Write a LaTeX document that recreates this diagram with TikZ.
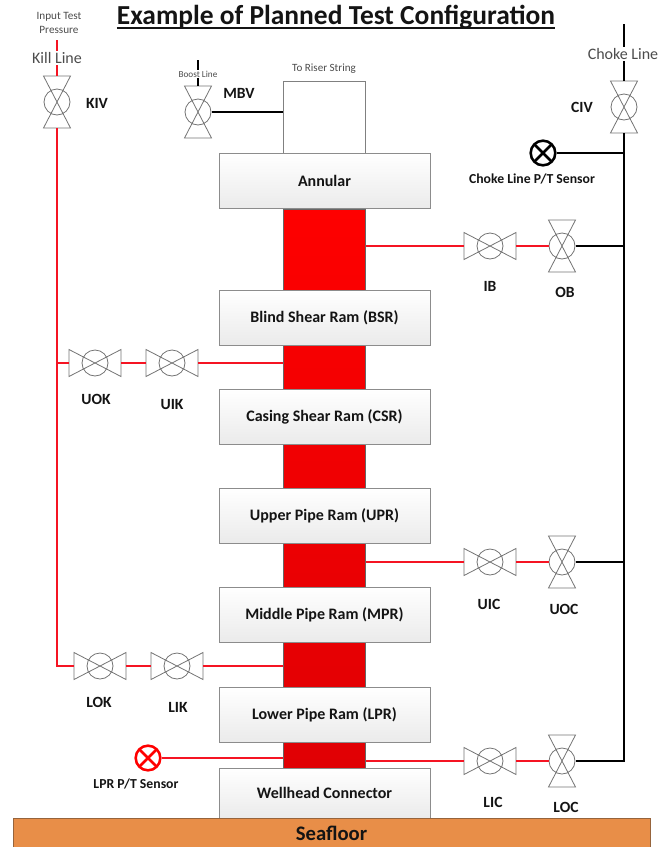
\documentclass[tikz,border=0pt]{standalone}
\usepackage{fontspec}
\setmainfont{Carlito}
\definecolor{boretop}{RGB}{254,0,0}
\definecolor{borelow}{RGB}{224,0,4}
\definecolor{linered}{RGB}{245,20,35}
\definecolor{seafill}{RGB}{232,142,72}
\definecolor{seaedge}{RGB}{150,100,60}
\definecolor{inktext}{RGB}{20,20,20}
\newcommand{\titleline}[1]{\setbox0\hbox{#1}\rlap{\rule[-3.4pt]{\wd0}{1.4pt}}\box0}
\tikzset{every picture/.style={line width=0.75pt}}
\tikzset{
  rambox/.style={draw=black!45,line width=0.75pt,top color=white,bottom color=black!8,minimum width=158.25pt,inner sep=0pt,text=inktext,font=\fontsize{12}{14}\selectfont\bfseries},
  valvebox/.style={inner sep=0pt,minimum width=38.25pt,minimum height=19.5pt},
  valvebox v/.style={inner sep=0pt,minimum width=19.5pt,minimum height=38.25pt},
  valveline/.style={draw=black!55,line width=0.6pt},
  sensor/.style={circle,draw,line width=1.9pt,fill=white,inner sep=0pt,minimum size=18.5pt,path picture={
    \draw[line width=1.9pt] (path picture bounding box.north west) -- (path picture bounding box.south east) (path picture bounding box.north east) -- (path picture bounding box.south west);}},
  redline/.style={draw=linered,line width=2pt},
  blackline/.style={draw=black,line width=2pt},
  lbl/.style={inner sep=0.75pt,text=inktext,font=\fontsize{11.7}{14}\selectfont\bfseries},
  smalllbl/.style={inner sep=0.75pt,text=inktext,font=\fontsize{10.3}{12}\selectfont\bfseries},
  linelbl/.style={fill=white,inner sep=1pt,text=black!70,font=\fontsize{12}{13}\selectfont},
}
\newcommand{\valveh}[2]{\node[valvebox] (#1) at (#2) {};
\draw[valveline] (#1.north west) -- (#1.south east) -- (#1.north east) -- (#1.south west) -- cycle (#1.center) circle (13);}
\newcommand{\valvev}[2]{\node[valvebox v] (#1) at (#2) {};
\draw[valveline] (#1.north west) -- (#1.north east) -- (#1.south west) -- (#1.south east) -- cycle (#1.center) circle (13);}

\begin{document}
\begin{tikzpicture}[x=0.75pt,y=0.75pt,yscale=-1,xscale=1]
\useasboundingbox (0,0) rectangle (670,847);

%Stack
\node[draw=black!50,fill=white,inner sep=0pt,minimum width=61.5pt,minimum height=54pt] (riser) at (324,117) {};
\node[draw=black!60,top color=boretop,bottom color=borelow,inner sep=0pt,minimum width=61.5pt,minimum height=419.25pt] (bore) at (324,488.5) {};
\node[rambox,minimum height=41.25pt] (annular) at (324.5,181) {Annular};
\node[rambox,minimum height=41.25pt] (bsr) at (324.5,317.5) {Blind Shear Ram (BSR)};
\node[rambox,minimum height=41.25pt] (csr) at (324.5,417) {Casing Shear Ram (CSR)};
\node[rambox,minimum height=41.25pt] (upr) at (324.5,515.5) {Upper Pipe Ram (UPR)};
\node[rambox,minimum height=41.25pt] (mpr) at (324.5,614.5) {Middle Pipe Ram (MPR)};
\node[rambox,minimum height=41.25pt] (lpr) at (324.5,715) {Lower Pipe Ram (LPR)};
\node[rambox,minimum height=37.5pt] (wellhead) at (324.5,793) {Wellhead Connector};
\node[draw=seaedge,fill=seafill,inner sep=0pt,minimum width=477.75pt,minimum height=21.75pt,text=inktext,font=\fontsize{15.5}{16}\selectfont\bfseries] (seafloor) at (331.5,833) {Seafloor};

%Valves
\valvev{KIV}{57,102}
\valvev{MBV}{198,112}
\valvev{CIV}{624,107}
\valveh{IB}{490,246}
\valvev{OB}{562,246}
\valveh{UOK}{95,363}
\valveh{UIK}{172,363}
\valveh{UIC}{490,562}
\valvev{UOC}{562,562}
\valveh{LOK}{100,666}
\valveh{LIK}{177,666}
\valveh{LIC}{490,761}
\valvev{LOC}{562,761}

%Sensors
\node[sensor] (CLS) at (543,153) {};
\node[sensor,draw=red] (LPS) at (148,758) {};

%Line ends
\coordinate (killtop) at (57,40);
\coordinate (boosttop) at (198,60);
\coordinate (choketop) at (624,24);

%Red lines
\draw[redline] (killtop) -- (KIV.north);
\draw[redline] (KIV.south) |- (LOK.west);
\draw[redline] (LOK.east) -- (LIK.west);
\draw[redline] (LIK.east) -- (LIK.east -| bore.west);
\draw[redline] (UOK.west) -- (UOK.west -| KIV.south);
\draw[redline] (UOK.east) -- (UIK.west);
\draw[redline] (UIK.east) -- (UIK.east -| bore.west);
\draw[redline] (IB.west -| bore.east) -- (IB.west);
\draw[redline] (IB.east) -- (OB.west);
\draw[redline] (UIC.west -| bore.east) -- (UIC.west);
\draw[redline] (UIC.east) -- (UOC.west);
\draw[redline] (LIC.west -| bore.east) -- (LIC.west);
\draw[redline] (LIC.east) -- (LOC.west);
\draw[redline] (LPS.east) -- (LPS.east -| bore.west);

%Black lines
\draw[blackline] (choketop) -- (CIV.north);
\draw[blackline] (CIV.south) |- (LOC.east);
\draw[blackline] (OB.east) -- (OB.east -| CIV.south);
\draw[blackline] (UOC.east) -- (UOC.east -| CIV.south);
\draw[blackline] (CLS.east) -- (CLS.east -| CIV.south);
\draw[blackline] (boosttop) -- (MBV.north);
\draw[blackline] (MBV.east) -- (MBV.east -| riser.west);

% Text Node
\draw (336,17) node [inner sep=0.75pt,text=inktext,font=\fontsize{20.6}{23}\selectfont\bfseries] (title) {\titleline{Example of Planned Test Configuration}};
% Text Node
\draw (59,23) node [inner sep=0.75pt,align=center,text=black!70,font=\fontsize{8.4}{10}\selectfont] (input) {Input Test\\Pressure};
% Text Node
\draw (57,58) node [linelbl] (killlbl) {Kill Line};
% Text Node
\draw (623,54) node [linelbl] (chokelbl) {Choke Line};
% Text Node
\draw (198,74) node [fill=white,inner sep=0.75pt,text=black!70,font=\fontsize{6.9}{7}\selectfont] (boostlbl) {Boost Line};
% Text Node
\draw (324,69) node [inner sep=0.75pt,text=black!70,font=\fontsize{8.3}{9}\selectfont] (riserlbl) {To Riser String};
% Text Node
\draw (97,103) node [lbl] (lblKIV) {KIV};
% Text Node
\draw (239,93) node [lbl] (lblMBV) {MBV};
% Text Node
\draw (582,107) node [lbl] (lblCIV) {CIV};
% Text Node
\draw (532,179) node [smalllbl] (lblCLS) {Choke Line P/T Sensor};
% Text Node
\draw (490,286) node [lbl] (lblIB) {IB};
% Text Node
\draw (565,292) node [lbl] (lblOB) {OB};
% Text Node
\draw (96,399) node [lbl] (lblUOK) {UOK};
% Text Node
\draw (172,404) node [lbl] (lblUIK) {UIK};
% Text Node
\draw (489,604) node [lbl] (lblUIC) {UIC};
% Text Node
\draw (564,609) node [lbl] (lblUOC) {UOC};
% Text Node
\draw (99,702) node [lbl] (lblLOK) {LOK};
% Text Node
\draw (178,707) node [lbl] (lblLIK) {LIK};
% Text Node
\draw (136,784) node [smalllbl] (lblLPS) {LPR P/T Sensor};
% Text Node
\draw (493,802) node [lbl] (lblLIC) {LIC};
% Text Node
\draw (566,807) node [lbl] (lblLOC) {LOC};

\end{tikzpicture}
\end{document}
